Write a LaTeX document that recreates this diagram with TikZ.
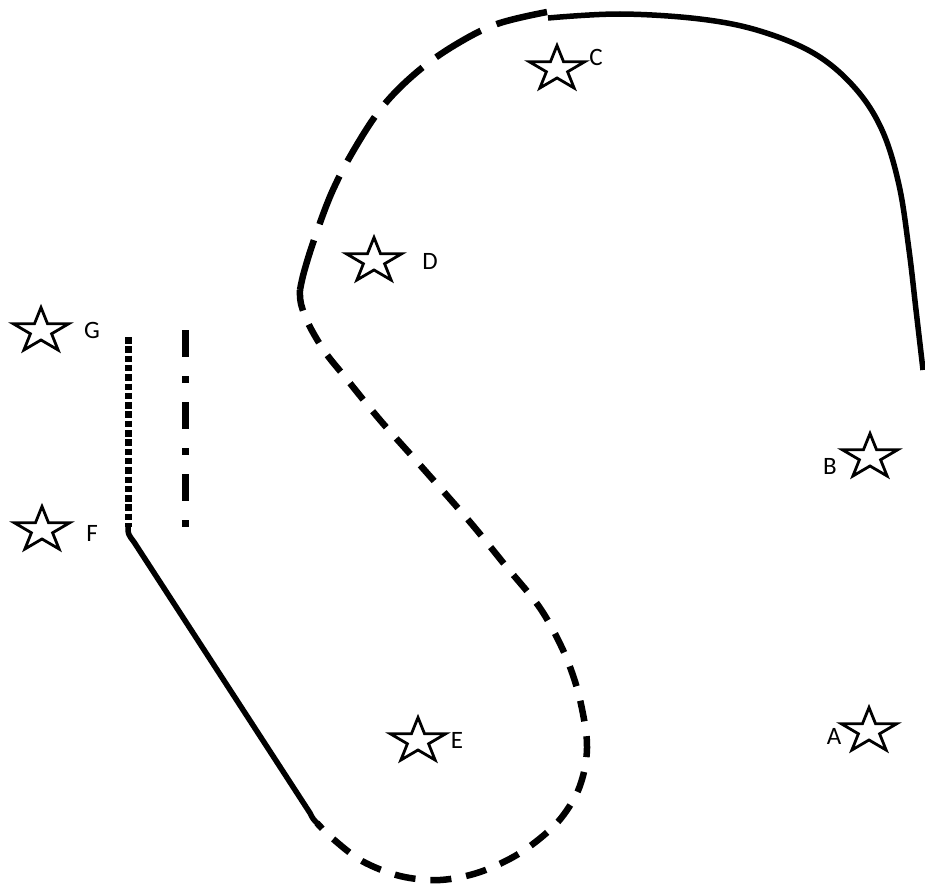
\documentclass[tikz,border=0pt]{standalone}
\usepackage{fontspec}
\setmainfont{Carlito}
\usetikzlibrary{shapes.geometric}
\begin{document}
\begin{tikzpicture}[x=1pt,y=-1pt,
  starnode/.style={star, star points=5, star point ratio=2.618, minimum size=47pt,
    inner sep=0pt, draw=black, fill=white, line width=2.8pt, transform shape, xscale=1.24},
  lbl/.style={inner sep=0pt, font=\fontsize{25}{25}\selectfont},
  solidline/.style={line width=5.5pt, line join=round},
  longdash/.style={line width=6.5pt, dash pattern=on 52pt off 17pt},
  shortdash/.style={line width=6.5pt, dash pattern=on 21pt off 15pt},
  dotline/.style={line width=7pt, dash pattern=on 6.5pt off 2.8pt},
  dashdotline/.style={line width=7pt, dash pattern=on 27pt off 19pt on 7pt off 19pt}]
\useasboundingbox (0,0) rectangle (925,883);
\fill[white] (0,0) rectangle (925,883);

% solid top/right curve
\draw[solidline] plot[smooth, tension=0.6] coordinates {(548,18) (620,14) (700,19) (760,31) (815,54) (855,88) (882,130) (899,185) (909,250) (916,310) (923,370)};
% long dashed upper curve
\draw[longdash] plot[smooth, tension=0.6] coordinates {(547,12) (497,24) (455,45) (417,72) (383,106) (355,148) (332,192) (314,240) (304,272) (300,290)};
% short dashed S-curve
\draw[shortdash] plot[smooth, tension=0.55] coordinates {(300,290) (301,304) (309,325) (325,352) (345,377) (380,420) (420,465) (470,522) (505,565) (540,608) (563,650) (577,688) (585,725) (587,748) (584,772) (575,797) (555,825) (520,853) (480,872) (440,880) (400,876) (362,861) (332,838) (317,823)};
% solid diagonal
\draw[solidline] (128,527) .. controls (128,534) .. (134,542) -- (310,813) .. controls (313,819) .. (318,824);
% dotted vertical
\draw[dotline] (128,337) -- (128,527);
% dash-dot vertical
\draw[dashdotline] (185,330) -- (185,531);

% stars
\node[starnode] (sA) at (869,731) {};
\node[starnode] (sB) at (870,457) {};
\node[starnode] (sC) at (557,69) {};
\node[starnode] (sD) at (374,261) {};
\node[starnode] (sE) at (418,741) {};
\node[starnode] (sF) at (42,530) {};
\node[starnode] (sG) at (41,331) {};

% labels
\node[lbl] (lA) at (834,736) {A};
\node[lbl] (lB) at (830,466) {B};
\node[lbl] (lC) at (596,57) {C};
\node[lbl] (lD) at (430,261) {D};
\node[lbl] (lE) at (457,740) {E};
\node[lbl] (lF) at (92,533) {F};
\node[lbl] (lG) at (92,330) {G};
\end{tikzpicture}
\end{document}
